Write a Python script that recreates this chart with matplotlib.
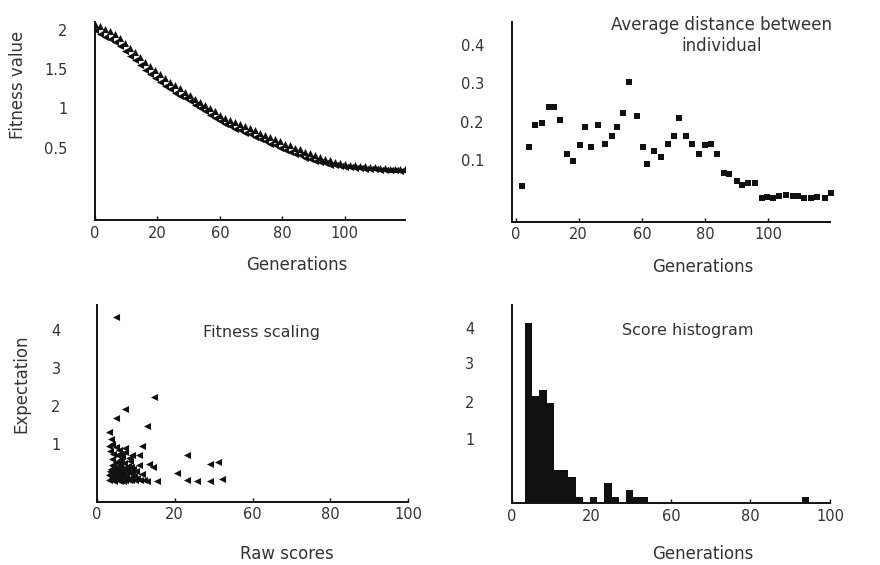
import numpy as np
import matplotlib
matplotlib.use('Agg')
import matplotlib.pyplot as plt

plt.rcParams['font.family'] = ['DejaVu Sans']

# Fitness value per generation (two bands of points)
generations = np.arange(0, 125, 2)
mean_fitness = [2.07, 2.04, 2.01, 1.98, 1.94, 1.89, 1.83, 1.77, 1.71, 1.65,
                1.59, 1.54, 1.48, 1.43, 1.38, 1.34, 1.30, 1.26, 1.21, 1.17,
                1.12, 1.08, 1.04, 1.00, 0.96, 0.92, 0.88, 0.85, 0.82, 0.80,
                0.77, 0.75, 0.72, 0.69, 0.66, 0.63, 0.61, 0.58, 0.55, 0.53,
                0.50, 0.48, 0.45, 0.43, 0.41, 0.38, 0.36, 0.34, 0.32, 0.31,
                0.295, 0.285, 0.278, 0.27, 0.262, 0.255, 0.249, 0.244, 0.239, 0.234,
                0.231, 0.228, 0.225]
best_fitness = [1.99, 1.94, 1.91, 1.88, 1.84, 1.79, 1.73, 1.67, 1.61, 1.55,
                1.49, 1.44, 1.38, 1.33, 1.28, 1.24, 1.20, 1.16, 1.13, 1.09,
                1.04, 1.00, 0.96, 0.92, 0.88, 0.84, 0.80, 0.77, 0.74, 0.72,
                0.69, 0.67, 0.64, 0.61, 0.58, 0.55, 0.53, 0.50, 0.47, 0.45,
                0.42, 0.40, 0.37, 0.35, 0.33, 0.32, 0.30, 0.285, 0.275, 0.265,
                0.255, 0.25, 0.245, 0.238, 0.232, 0.228, 0.224, 0.219, 0.215, 0.212,
                0.21, 0.208, 0.206]

# Average distance between individuals
dist_gen = [2.7, 5.3, 7.7, 10.5, 13.1, 15.1, 17.6, 20.2, 22.8, 25.4,
            27.4, 30.0, 32.8, 35.4, 38.0, 40.1, 42.7, 44.9, 47.9, 50.5,
            52.0, 54.9, 57.5, 60.2, 62.8, 64.7, 67.3, 69.9, 72.5, 75.1,
            77.3, 79.9, 82.5, 84.7, 87.7, 89.6, 91.9, 94.8, 97.4, 99.7,
            101.9, 104.5, 107.1, 109.7, 111.9, 114.3, 116.8, 119.5, 122.7, 125.0]
dist_val = [0.032, 0.133, 0.191, 0.197, 0.239, 0.238, 0.204, 0.115, 0.097, 0.139,
            0.185, 0.133, 0.191, 0.142, 0.163, 0.185, 0.222, 0.304, 0.215, 0.133,
            0.090, 0.124, 0.107, 0.142, 0.163, 0.210, 0.163, 0.142, 0.115, 0.138,
            0.142, 0.115, 0.065, 0.063, 0.046, 0.035, 0.041, 0.041, 0.002, 0.004,
            0.0, 0.006, 0.009, 0.006, 0.006, 0.002, 0.0, 0.003, 0.0, 0.013]

# Fitness scaling: raw score vs expectation
raw_scores = [6.1, 18.5, 9.1, 6.1, 16.0, 3.9, 4.6, 6.1, 14.4, 4.3,
              9.1, 7.6, 11.2, 13.4, 28.9, 16.6, 18.2, 36.4, 39.0, 25.7,
              28.9, 32.1, 36.4, 40.1, 19.3, 16.0,
              4.0, 4.5, 4.2, 4.8, 5.0, 5.5, 5.8, 6.0, 6.3, 6.8,
              7.0, 7.2, 7.5, 7.8, 8.0, 8.3, 8.6, 8.8, 9.2, 9.5,
              9.8, 10.0, 10.2, 10.5, 10.8, 11.0, 11.5, 11.8, 12.2, 12.5,
              13.0, 13.5, 14.0, 14.5, 15.0, 5.2, 6.5, 8.2, 9.0, 7.0,
              5.0, 3.9, 10.5, 4.4, 5.6, 6.6, 7.4, 8.4, 9.4, 12.0,
              4.1, 4.9, 5.3, 6.2, 7.1, 7.9, 8.9, 9.9, 10.9, 11.4,
              4.6, 5.4, 6.9, 7.7, 8.5, 9.6, 10.3, 3.8, 5.9, 7.3]
expectation = [4.35, 2.25, 1.91, 1.68, 1.47, 1.32, 1.12, 0.93, 0.96, 0.82,
               0.89, 0.74, 0.71, 0.71, 0.71, 0.47, 0.40, 0.47, 0.52, 0.23,
               0.05, 0.03, 0.02, 0.08, 0.03, 0.03,
               0.05, 0.15, 0.30, 0.45, 0.60, 0.08, 0.22, 0.38, 0.52, 0.05,
               0.15, 0.30, 0.45, 0.60, 0.08, 0.20, 0.35, 0.50, 0.05, 0.18,
               0.30, 0.42, 0.62, 0.10, 0.25, 0.05, 0.35, 0.15, 0.05, 0.28,
               0.10, 0.45, 0.05, 0.20, 0.05, 0.75, 0.70, 0.68, 0.80, 0.85,
               1.00, 0.95, 0.55, 0.25, 0.32, 0.12, 0.02, 0.28, 0.10, 0.15,
               0.20, 0.10, 0.42, 0.12, 0.40, 0.35, 0.12, 0.08, 0.40, 0.22,
               0.35, 0.02, 0.25, 0.18, 0.02, 0.40, 0.05, 0.18, 0.10, 0.52]

# Score histogram
hist_left = [4.2, 6.5, 8.7, 11.0, 13.2, 15.5, 17.8, 20.0, 24.5, 29.1,
             31.3, 35.8, 38.1, 40.4, 91.1]
hist_counts = [27, 16, 17, 15, 5, 5, 4, 1, 1, 3, 1, 2, 1, 1, 1]

gen_ticks = [0, 25, 50, 75, 100]
gen_labels = ['0', '20', '60', '80', '100']

ink = '#111111'
txt = '#333333'

fig = plt.figure(figsize=(8.8, 5.65), dpi=100)
ax1 = fig.add_axes([0.108, 0.6106, 0.352, 0.351])
ax2 = fig.add_axes([0.5815, 0.6076, 0.3617, 0.354])
ax3 = fig.add_axes([0.110, 0.112, 0.354, 0.348])
ax4 = fig.add_axes([0.5815, 0.1092, 0.3617, 0.351])


def style(ax, ypad):
    for s in ['top', 'right']:
        ax.spines[s].set_visible(False)
    for s in ['left', 'bottom']:
        ax.spines[s].set_linewidth(1.4)
        ax.spines[s].set_color(ink)
    ax.tick_params(direction='in', length=3, width=1, colors=ink,
                   labelcolor=txt, labelsize=10.5)
    ax.tick_params(axis='y', pad=ypad, length=0)
    ax.tick_params(axis='x', pad=4)
    ax.set_xticks(gen_ticks, gen_labels)


# top left
ax1.scatter(generations, mean_fitness, marker='^', s=26, color=ink, linewidths=0)
ax1.scatter(generations, best_fitness, marker='<', s=26, color=ink, linewidths=0)
ax1.set_xlim(0, 124)
ax1.set_ylim(-0.42, 2.10)
style(ax1, 20)
ax1.set_yticks([0.5, 1, 1.5, 2], ['0.5', '1', '1.5', '2'])
ax1.set_xlabel('Generations', fontsize=12, color=txt)
ax1.xaxis.set_label_coords(0.65, -0.18)
ax1.set_ylabel('Fitness value', fontsize=12, color=txt)
ax1.yaxis.set_label_coords(-0.22, 0.68)

# top right
ax2.scatter(dist_gen, dist_val, marker='s', s=20, color=ink, linewidths=0, clip_on=False)
ax2.set_xlim(-1.5, 124.5)
ax2.set_ylim(-0.061, 0.461)
style(ax2, 20)
ax2.set_yticks([0.1, 0.2, 0.3, 0.4], ['0.1', '0.2', '0.3', '0.4'])
ax2.set_xlabel('Generations', fontsize=12, color=txt)
ax2.xaxis.set_label_coords(0.6, -0.18)
ax2.text(0.66, 0.93, 'Average distance between\nindividual', transform=ax2.transAxes,
         ha='center', va='center', fontsize=12, color=txt, linespacing=1.2)

# bottom left
ax3.scatter(raw_scores, expectation, marker='<', s=26, color=ink, linewidths=0)
ax3.set_xlim(0, 100)
ax3.set_ylim(-0.52, 4.66)
style(ax3, 26)
ax3.set_yticks([1, 2, 3, 4], ['1', '2', '3', '4'])
ax3.set_xlabel('Raw scores', fontsize=12, color=txt)
ax3.xaxis.set_label_coords(0.61, -0.22)
ax3.set_ylabel('Expectation', fontsize=12, color=txt)
ax3.yaxis.set_label_coords(-0.214, 0.6)
ax3.text(0.53, 0.863, 'Fitness scaling', transform=ax3.transAxes,
         ha='center', va='center', fontsize=11.5, color=txt)

# bottom right
ax4.bar(hist_left, hist_counts, width=2.3, align='edge', color=ink, linewidth=0)
ax4.set_xlim(0, 100)
ax4.set_ylim(0, 29.7)
style(ax4, 27)
ax4.set_yticks([9.7, 15.2, 21.0, 26.2], ['1', '2', '3', '4'])
ax4.set_xlabel('Generations', fontsize=12, color=txt)
ax4.xaxis.set_label_coords(0.6, -0.21)
ax4.text(0.554, 0.869, 'Score histogram', transform=ax4.transAxes,
         ha='center', va='center', fontsize=11.5, color=txt)

fig.savefig('out.png', dpi=100)
